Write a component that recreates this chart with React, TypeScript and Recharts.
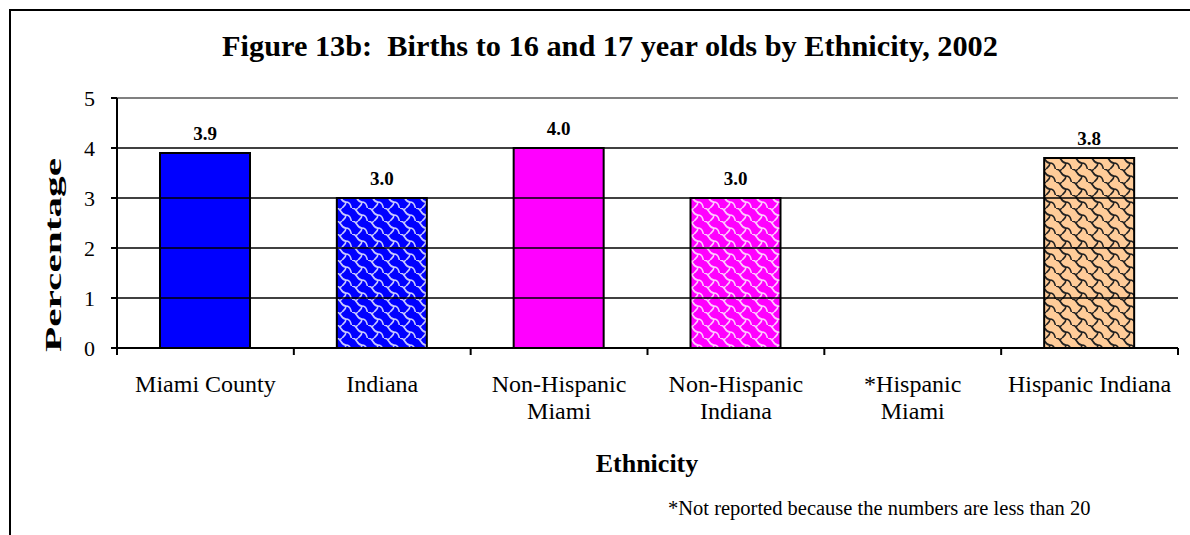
import React from 'react';
import { ComposedChart, Bar, Line, XAxis, YAxis, ReferenceLine, LabelList, Cell } from 'recharts';

// categories (\n = line break in the tick label)
const categories = [
  'Miami County',
  'Indiana',
  'Non-Hispanic\nMiami',
  'Non-Hispanic\nIndiana',
  '*Hispanic\nMiami',
  'Hispanic Indiana',
];
// percent of births to 16 and 17 year olds (Hispanic Miami not reported)
const percentages: (number | null)[] = [3.9, 3.0, 4.0, 3.0, null, 3.8];
const barFills = ['#0000FF', 'url(#weaveBlue)', '#FF00FF', 'url(#weaveMagenta)', 'none', 'url(#weavePeach)'];

const yTicks = [0, 1, 2, 3, 4, 5];
const gridValues = [1, 2, 3, 4];

const data = categories.map((c, i) => ({ category: c, value: percentages[i] }));

const FONT = '"Liberation Serif", "Times New Roman", serif';

// label lines + tick marks on the category boundaries (Excel style)
const CategoryTick = (props: any) => {
  const { x, y, payload, index, visibleTicksCount } = props;
  const half = payload.offset || 0;
  const lines = String(payload.value).split('\n');
  return (
    <g>
      <line x1={x - half} x2={x - half} y1={y} y2={y + 7} stroke="#000" strokeWidth={2} />
      {index === visibleTicksCount - 1 && (
        <line x1={x + half} x2={x + half} y1={y} y2={y + 7} stroke="#000" strokeWidth={2} />
      )}
      <text x={x} y={y} textAnchor="middle" fontFamily={FONT} fontSize={24} fill="#000">
        {lines.map((l, i) => (
          <tspan key={i} x={x} y={y + 44 + i * 27}>
            {l}
          </tspan>
        ))}
      </text>
    </g>
  );
};

const Weave = ({ id, bg, line }: { id: string; bg: string; line: string }) => (
  <pattern id={id} width={16} height={13} patternUnits="userSpaceOnUse">
    <rect width={16} height={13} fill={bg} />
    <path
      d="M0,0 C6,0 4,7 10,7 S14,13 16,13 M10,7 C10,10 8,11 6,13 M6,0 C5,1 4,2 3,2"
      fill="none"
      stroke={line}
      strokeWidth={1.6}
    />
  </pattern>
);

export default function App() {
  return (
    <div
      style={{
        position: 'absolute',
        left: 0,
        top: 0,
        width: 1190,
        height: 535,
        overflow: 'hidden',
        background: '#fff',
      }}
    >
      {/* frame (open at right and bottom, as cropped) */}
      <div
        style={{
          position: 'absolute',
          left: 9,
          top: 9,
          width: 1200,
          height: 600,
          borderLeft: '2px solid #000',
          borderTop: '2px solid #000',
        }}
      />
      <div style={{ position: 'absolute', left: 0, top: 0 }}>
        <ComposedChart
          width={1190}
          height={535}
          data={data}
          margin={{ top: 98, right: 12, left: 57, bottom: 107 }}
        >
          <defs>
            <Weave id="weaveBlue" bg="#0000FF" line="#C8C8FF" />
            <Weave id="weaveMagenta" bg="#FF00FF" line="#FFC8FF" />
            <Weave id="weavePeach" bg="#FFCC99" line="#222" />
          </defs>
          <XAxis
            dataKey="category"
            height={80}
            axisLine={{ stroke: '#000', strokeWidth: 2 }}
            tickLine={false}
            tickSize={0}
            tickMargin={0}
            interval={0}
            tick={<CategoryTick />}
          />
          <YAxis
            domain={[0, 5]}
            ticks={yTicks}
            width={60}
            tickSize={6}
            tickMargin={16}
            tickLine={{ stroke: '#000', strokeWidth: 2 }}
            axisLine={{ stroke: '#000', strokeWidth: 2 }}
            tick={{ fill: '#000', fontFamily: FONT, fontSize: 22 }}
          />
          <YAxis
            yAxisId="frame"
            orientation="right"
            domain={[0, 5]}
            width={0}
            tick={false}
            tickLine={false}
            axisLine={{ stroke: '#808080', strokeWidth: 2 }}
          />
          {gridValues.map((v) => (
            <ReferenceLine key={v} y={v} stroke="#000" strokeWidth={1.5} />
          ))}
          <ReferenceLine y={5} stroke="#808080" strokeWidth={2} />
          <Bar dataKey="value" barSize={90} stroke="#000" strokeWidth={2} isAnimationActive={false}>
            {data.map((d, i) => (
              <Cell key={i} fill={barFills[i]} />
            ))}
            <LabelList
              dataKey="value"
              position="top"
              offset={13}
              formatter={(v: any) => (v == null ? '' : Number(v).toFixed(1))}
              style={{ fill: '#000', fontFamily: FONT, fontSize: 19, fontWeight: 'bold' }}
            />
          </Bar>
          {/* invisible series so the right-hand frame axis is drawn */}
          <Line
            yAxisId="frame"
            dataKey="value"
            stroke="none"
            dot={false}
            activeDot={false}
            legendType="none"
            isAnimationActive={false}
          />
        </ComposedChart>
      </div>
      <svg
        width={1190}
        height={535}
        style={{ position: 'absolute', left: 0, top: 0, pointerEvents: 'none' }}
      >
        <text x={610} y={56} textAnchor="middle" fontFamily={FONT} fontWeight="bold" fontSize={30.3}>
          Figure 13b:{'\u00a0\u00a0'}Births to 16 and 17 year olds by Ethnicity, 2002
        </text>
        <text
          x={0}
          y={0}
          transform="translate(61,255) rotate(-90)"
          textAnchor="middle"
          fontFamily={FONT}
          fontWeight="bold"
          fontSize={23}
          textLength={194}
          lengthAdjust="spacingAndGlyphs"
        >
          Percentage
        </text>
        <text x={647} y={472} textAnchor="middle" fontFamily={FONT} fontWeight="bold" fontSize={26}>
          Ethnicity
        </text>
        <text x={668} y={515} fontFamily={FONT} fontSize={20.5}>
          *Not reported because the numbers are less than 20
        </text>
      </svg>
    </div>
  );
}
